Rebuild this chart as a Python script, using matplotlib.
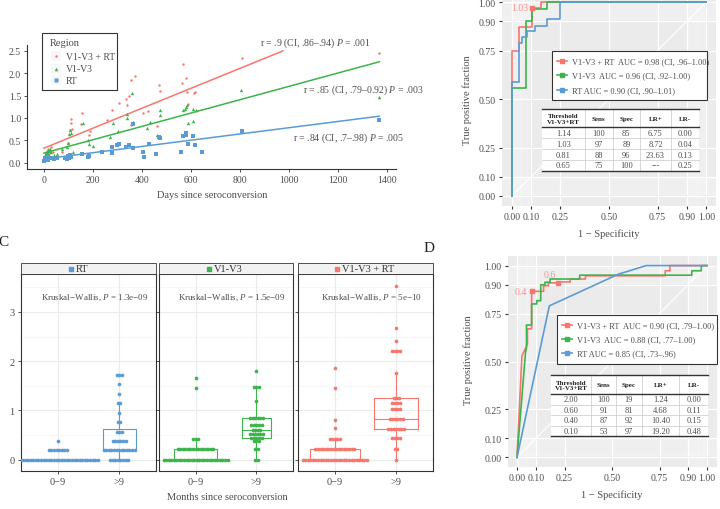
import numpy as np
import matplotlib
matplotlib.use('Agg')
import matplotlib.pyplot as plt
from matplotlib.lines import Line2D
from matplotlib.patches import Rectangle

plt.rcParams['font.family'] = ['Liberation Serif', 'DejaVu Serif']
plt.rcParams['mathtext.fontset'] = 'custom'
plt.rcParams['mathtext.rm'] = 'Liberation Serif'
plt.rcParams['mathtext.it'] = 'Liberation Serif:italic'

RED, GREEN, BLUE = '#F8766D', '#3CB44B', '#5B9BD5'
TXT = '#4D4D4D'

# ---- panel A data: days since seroconversion vs diversity
red_days = [4, 8, 11, 15, 20, 27, 38, 52, 72, 93, 100, 106, 110, 110, 116, 151, 156, 185, 188, 256,
            279, 307, 335, 339, 346, 355, 371, 354, 405, 426, 460, 471, 473, 562, 566, 578, 582, 588,
            612, 616, 807, 1369]
red_vals = [0.16, 0.22, 0.27, 0.30, 0.20, 0.35, 0.24, 0.31, 0.24, 0.16, 0.45, 0.74, 0.88, 0.98, 0.76,
            0.87, 1.11, 0.62, 0.72, 0.96, 1.18, 1.33, 1.42, 1.30, 1.50, 1.84, 1.93, 0.84, 1.11, 1.15,
            0.83, 1.74, 1.61, 1.78, 2.20, 1.89, 1.57, 1.31, 1.56, 1.58, 2.33, 2.44]
green_days = [3, 6, 9, 12, 15, 18, 22, 26, 30, 40, 55, 75, 95, 100, 104, 106, 110, 120, 158, 181, 185,
              200, 269, 280, 303, 337, 340, 358, 365, 419, 433, 460, 467, 473, 475, 566, 576, 580, 582,
              589, 609, 610, 619, 804, 1369]
green_vals = [0.10, 0.18, 0.22, 0.25, 0.28, 0.20, 0.27, 0.30, 0.24, 0.18, 0.21, 0.30, 0.35, 0.44, 0.64,
              0.73, 0.66, 0.25, 0.88, 0.50, 0.43, 0.38, 0.58, 0.88, 0.70, 0.99, 1.08, 1.56, 0.90, 0.77,
              0.92, 0.62, 0.61, 1.18, 1.06, 1.18, 1.20, 1.24, 1.29, 0.89, 0.94, 1.20, 1.18, 1.62, 1.47]
blue_days = [2, 4, 6, 8, 10, 12, 15, 18, 22, 30, 40, 55, 85, 93, 98, 102, 106, 110, 154, 181, 185, 235,
             276, 278, 299, 307, 335, 346, 362, 364, 403, 408, 429, 457, 471, 473, 558, 566, 578, 580,
             587, 607, 616, 644, 807, 1369]
blue_vals = [0.05, 0.08, 0.10, 0.06, 0.12, 0.09, 0.14, 0.07, 0.11, 0.10, 0.09, 0.12, 0.10, 0.09, 0.15,
             0.12, 0.18, 0.13, 0.20, 0.13, 0.16, 0.24, 0.35, 0.22, 0.40, 0.42, 0.35, 0.39, 0.33, 0.87,
             0.25, 0.13, 0.42, 0.20, 0.57, 0.55, 0.24, 0.61, 0.63, 0.67, 0.42, 0.61, 0.40, 0.25, 0.70,
             0.96]
# linear fits (intercept, slope) and correlation labels
fit_red = (0.33, 0.002216)
fit_green = (0.22, 0.001483)
fit_blue = (0.09, 0.000694)
r_labels = ['r = .9 (CI, .86–.94) $P$ = .001',
            'r = .85 (CI, .79–0.92) $P$ = .003',
            'r = .84 (CI, .7–.98) $P$ = .005']

# ---- panel B / D ROC curves (fpr, tpr)
B_red_fpr = [0, 0, 0.036, 0.036, 0.105, 0.105, 0.15, 0.15, 1.0]
B_red_tpr = [0, 0.75, 0.75, 0.873, 0.873, 0.97, 0.97, 1.0, 1.0]
B_green_fpr = [0, 0, 0.072, 0.072, 0.105, 0.105, 0.18, 0.18, 1.0]
B_green_tpr = [0, 0.555, 0.555, 0.90, 0.90, 0.965, 0.965, 1.0, 1.0]
B_blue_fpr = [0, 0, 0.036, 0.036, 0.055, 0.055, 0.076, 0.076, 0.118, 0.118, 0.18, 0.18, 0.25, 0.25, 1.0]
B_blue_tpr = [0, 0.59, 0.59, 0.79, 0.79, 0.82, 0.82, 0.85, 0.85, 0.875, 0.875, 0.91, 0.91, 1.0, 1.0]
B_cut = [(0.105, 0.97, '1.03')]
B_legend = ['V1-V3 + RT  AUC = 0.98 (CI, .96–1.00)',
            'V1-V3  AUC = 0.96 (CI, .92–1.00)',
            'RT AUC = 0.90 (CI, .90–1.01)']
B_rows = [['1.14', '100', '85', '6.75', '0.00'],
          ['1.03', '97', '89', '8.72', '0.04'],
          ['0.81', '88', '96', '23.63', '0.13'],
          ['0.65', '75', '100', '---', '0.25']]

D_red_fpr = [0, 0.026, 0.055, 0.055, 0.077, 0.077, 0.14, 0.14, 0.165, 0.165, 0.216, 0.216, 0.28, 0.28,
             0.36, 0.36, 0.78, 0.78, 0.805, 0.805, 1.0]
D_red_tpr = [0, 0.53, 0.59, 0.67, 0.67, 0.866, 0.866, 0.895, 0.895, 0.91, 0.91, 0.915, 0.915, 0.93,
             0.93, 0.947, 0.947, 0.973, 0.973, 1.0, 1.0]
D_green_fpr = [0, 0.045, 0.05, 0.05, 0.077, 0.077, 0.104, 0.104, 0.125, 0.125, 0.147, 0.147, 0.174,
               0.174, 0.33, 0.33, 0.92, 0.92, 0.97, 0.97, 1.0]
D_green_tpr = [0, 0.55, 0.57, 0.69, 0.69, 0.80, 0.80, 0.817, 0.817, 0.90, 0.90, 0.913, 0.913, 0.93,
               0.93, 0.95, 0.95, 0.973, 0.973, 1.0, 1.0]
D_blue_fpr = [0, 0.17, 0.533, 0.68, 1.0]
D_blue_tpr = [0, 0.79, 0.955, 1.0, 1.0]
D_cut = [(0.077, 0.866, '0.4'), (0.216, 0.91, '0.6')]
D_legend = ['V1-V3 + RT  AUC = 0.90 (CI, .79–1.00)',
            'V1-V3  AUC = 0.88 (CI, .77–1.00)',
            'RT AUC = 0.85 (CI, .73–.96)']
D_rows = [['2.00', '100', '19', '1.24', '0.00'],
          ['0.60', '91', '81', '4.68', '0.11'],
          ['0.40', '87', '92', '10.40', '0.15'],
          ['0.10', '53', '97', '19.20', '0.48']]
table_header = ['Threshold\nV1-V3+RT', 'Sens', 'Spec', 'LR+', 'LR-']

# ---- panel C dotplot data (binned value levels, counts)
groups = ['0−9', '>9']
C_RT = [([0, 0.19, 0.38], [32, 8, 1]),
        ([0, 0.19, 0.38, 0.57, 0.76, 0.95, 1.15, 1.34, 1.53, 1.72], [8, 13, 6, 3, 2, 1, 2, 1, 1, 3])]
C_V13 = [([0, 0.22, 0.41, 1.45, 1.66], [26, 15, 3, 1, 1]),
         ([0, 0.22, 0.37, 0.43, 0.52, 0.60, 0.71, 0.85, 1.20, 1.48, 1.80], [2, 2, 3, 5, 6, 4, 5, 6, 1, 3, 1])]
C_V13RT = [([0, 0.22, 0.41, 0.64, 0.80, 1.45, 1.86], [26, 16, 5, 1, 1, 1, 1]),
           ([0, 0.21, 0.45, 0.62, 0.83, 1.03, 1.15, 1.25, 1.75, 2.21, 2.41, 2.67, 3.52],
            [1, 2, 4, 7, 6, 4, 4, 3, 1, 4, 1, 1, 1])]
C_pvals = ['1.3e−09', '1.5e−09', '5e−10']

W, H = 720, 510
fig = plt.figure(figsize=(7.2, 5.1), dpi=100)


def fx(x):
    return x / W


def fy(y):
    return 1 - y / H


def ax_px(x0, y0, x1, y1):
    return fig.add_axes([x0 / W, 1 - y1 / H, (x1 - x0) / W, (y1 - y0) / H])


def ftext(x, y, s, **kw):
    kw.setdefault('color', TXT)
    kw.setdefault('fontsize', 7)
    return fig.text(fx(x), fy(y), s, **kw)


def fline(xs, ys, **kw):
    fig.add_artist(Line2D([fx(v) for v in xs], [fy(v) for v in ys], transform=fig.transFigure, **kw))


# =================== A ===================
axA = ax_px(27.3, 45.9, 396, 169.6)
axA.scatter(red_days, red_vals, s=3, color=RED, marker='o', linewidths=0, zorder=3)
axA.scatter(green_days, green_vals, s=6, color=GREEN, marker='^', linewidths=0, zorder=3)
axA.scatter(blue_days, blue_vals, s=5, color=BLUE, marker='s', linewidths=0, zorder=3)
for (b, m), col, xmax in [(fit_red, RED, 1369), (fit_green, GREEN, 1369), (fit_blue, BLUE, 1369)]:
    xs = np.linspace(0, xmax, 300)
    ys = b + m * xs
    keep = ys <= 2.5
    axA.plot(xs[keep], ys[keep], color=col, lw=1.1, zorder=2)
axA.set_xlim(-68, 1437)
axA.set_ylim(-0.125, 2.625)
axA.set_xticks(range(0, 1401, 200))
axA.set_yticks(np.arange(0, 2.51, 0.5))
axA.set_yticklabels([f'{v:.1f}' for v in np.arange(0, 2.51, 0.5)])
for s in ['top', 'right']:
    axA.spines[s].set_visible(False)
for s in ['left', 'bottom']:
    axA.spines[s].set_color('#333333')
    axA.spines[s].set_linewidth(0.8)
axA.tick_params(labelsize=7, colors='#333333', labelcolor=TXT, length=2.5, width=0.6, pad=2)
axA.text(882, 2.69, r_labels[0], fontsize=7, color=TXT, va='center')
axA.text(1057, 1.64, r_labels[1], fontsize=7, color=TXT, va='center')
axA.text(1016, 0.58, r_labels[2], fontsize=7, color=TXT, va='center')
ftext(212, 196, 'Days since seroconversion', ha='center', va='center', fontsize=7.5)
# y title sits mostly outside the left edge, as in the cropped original
ftext(-3.5, 106, 'Mean diversity (%)', rotation=90, ha='center', va='center', fontsize=7.5)
# legend A
fig.add_artist(Rectangle((fx(42), fy(91)), fx(117) - fx(42), fy(34) - fy(91), transform=fig.transFigure,
                         facecolor='white', edgecolor='#333333', lw=0.8))
ftext(50, 43, 'Region', va='center', fontsize=7.5)
for yy, col, mk, ms, lab in [(57, RED, 'o', 1.8, 'V1-V3 + RT'), (69.5, GREEN, '^', 2.6, 'V1-V3'),
                             (81, BLUE, 's', 2.4, 'RT')]:
    fig.add_artist(Rectangle((fx(51), fy(yy + 5)), fx(61) - fx(51), fy(yy - 5) - fy(yy + 5),
                             transform=fig.transFigure, facecolor='#F7F7F7', edgecolor='none'))
    fline([56], [yy], marker=mk, ms=ms, color=col, mec='none', ls='none')
    ftext(66, yy, lab, va='center', fontsize=7)


# =================== ROC helpers ===================
def roc_axes(ax, curves, cuts):
    ax.set_facecolor('#EBEBEB')
    majors = [0, 0.1, 0.25, 0.5, 0.75, 0.9, 1.0]
    minors = list(np.arange(0.01, 0.1, 0.01)) + list(np.arange(0.91, 1.0, 0.01))
    for v in minors:
        ax.axvline(v, color='white', lw=0.35, zorder=0)
        ax.axhline(v, color='white', lw=0.35, zorder=0)
    for v in majors:
        ax.axvline(v, color='white', lw=0.9, zorder=0)
        ax.axhline(v, color='white', lw=0.9, zorder=0)
    ax.plot([0, 1], [0, 1], color='white', lw=0.9, zorder=0)
    for fpr, tpr, col in curves:
        ax.plot(fpr, tpr, color=col, lw=1.2, zorder=2)
    for x, y, lab in cuts:
        ax.plot([x], [y], marker='s', ms=3, color=RED, zorder=3)
    ax.set_xlim(-0.05, 1.05)
    ax.set_ylim(-0.05, 1.05)
    ax.set_xticks(majors)
    ax.set_yticks(majors)
    ax.set_xticklabels([f'{v:.2f}' for v in majors])
    ax.set_yticklabels([f'{v:.2f}' for v in majors])
    for s in ax.spines.values():
        s.set_visible(False)
    ax.tick_params(labelsize=7, colors='#333333', labelcolor=TXT, length=2.5, width=0.8, pad=2)


def roc_legend(x0, y0, x1, y1, ys, labels):
    fig.add_artist(Rectangle((fx(x0), fy(y1)), fx(x1) - fx(x0), fy(y0) - fy(y1), transform=fig.transFigure,
                             facecolor='white', edgecolor='#333333', lw=0.8, zorder=5))
    for yy, col, lab in zip(ys, [RED, GREEN, BLUE], labels):
        fline([x0 + 5, x0 + 15], [yy, yy], color=col, lw=1.2, zorder=6)
        fline([x0 + 10], [yy], marker='s', ms=2.8, color=col, ls='none', zorder=6)
        t = ftext(x0 + 20, yy, lab, va='center', fontsize=6)
        t.set_zorder(6)


def roc_table(cols, rows_y, header, rows):
    fig.add_artist(Rectangle((fx(cols[0]), fy(rows_y[-1])), fx(cols[-1]) - fx(cols[0]),
                             fy(rows_y[0]) - fy(rows_y[-1]), transform=fig.transFigure,
                             facecolor='white', edgecolor='none', zorder=5))
    for x in cols[1:-1]:
        fline([x, x], [rows_y[0], rows_y[-1]], color='#C8C8C8', lw=0.5, zorder=6)
    for y in rows_y[2:-1]:
        fline([cols[0], cols[-1]], [y, y], color='#C8C8C8', lw=0.5, zorder=6)
    for y in [rows_y[0], rows_y[1], rows_y[-1]]:
        fline([cols[0], cols[-1]], [y, y], color='#333333', lw=1.0, zorder=6)
    for j, h in enumerate(header):
        t = ftext((cols[j] + cols[j + 1]) / 2, (rows_y[0] + rows_y[1]) / 2 + 0.5, h, ha='center',
                  va='center', fontsize=5, fontweight='bold', color='#222222', linespacing=1.05)
        t.set_zorder(7)
    for i, row in enumerate(rows):
        for j, v in enumerate(row):
            t = ftext((cols[j] + cols[j + 1]) / 2, (rows_y[i + 1] + rows_y[i + 2]) / 2, v, ha='center',
                      va='center', fontsize=6)
            t.set_zorder(7)


# =================== B ===================
axB = ax_px(502, -6.7, 716, 206.7)
roc_axes(axB, [(B_red_fpr, B_red_tpr, RED), (B_green_fpr, B_green_tpr, GREEN),
               (B_blue_fpr, B_blue_tpr, BLUE)], B_cut)
axB.text(0.085, 0.97, B_cut[0][2], color=RED, alpha=0.75, fontsize=7, ha='right', va='center')
ftext(609, 234, '1 − Specificity', ha='center', va='center', fontsize=7.5)
ftext(467, 100, 'True positive fraction', rotation=90, ha='center', va='center', fontsize=7.5)
roc_legend(551.7, 51.7, 706.7, 101, [62.3, 76, 90.7], B_legend)
roc_table([541.7, 585, 612.7, 640, 671, 699], [110, 128, 139.3, 150, 161, 171.7], table_header, B_rows)

# =================== D ===================
axD = ax_px(507.5, 257, 716.5, 468)
roc_axes(axD, [(D_red_fpr, D_red_tpr, RED), (D_green_fpr, D_green_tpr, GREEN),
               (D_blue_fpr, D_blue_tpr, BLUE)], D_cut)
axD.text(0.055, 0.866, D_cut[0][2], color=RED, alpha=0.75, fontsize=7, ha='right', va='center')
axD.text(0.17, 0.955, D_cut[1][2], color=RED, alpha=0.75, fontsize=7, ha='center', va='center')
ftext(612, 495, '1 − Specificity', ha='center', va='center', fontsize=7.5)
ftext(468, 360, 'True positive fraction', rotation=90, ha='center', va='center', fontsize=7.5)
roc_legend(557.3, 316, 716.7, 365, [326, 340, 354], D_legend)
roc_table([551, 591, 616, 641.7, 679.3, 708.3], [376, 395, 405.5, 416, 426.5, 437.3], table_header, D_rows)

# =================== C ===================
facets = [('RT', C_RT, BLUE, 21, 156, [0.6, 0.54], 71),
          ('V1-V3', C_V13, GREEN, 159, 293, [0.70, 0.48], 209),
          ('V1-V3 + RT', C_V13RT, RED, 298, 433, [0.81, 0.71], 337)]
dot_d = 0.042
for k, (name, data, col, x0, x1, widths, sqx) in enumerate(facets):
    ax = ax_px(x0, 275, x1, 472)
    ax.set_xlim(0.4, 2.6)
    ax.set_ylim(-0.23, 3.77)
    for v in [0.5, 1.5, 2.5, 3.5]:
        ax.axhline(v, color='#F2F2F2', lw=0.4, zorder=0)
    for v in [0, 1, 2, 3]:
        ax.axhline(v, color='#EBEBEB', lw=0.8, zorder=0)
    for v in [1, 2]:
        ax.axvline(v, color='#EBEBEB', lw=0.8, zorder=0)
    for g, (levels, counts) in enumerate(data):
        pos = g + 1
        vals = np.repeat(levels, counts)
        ax.boxplot(vals, positions=[pos], widths=widths[g], showfliers=False, showcaps=False,
                   whis=1.5, patch_artist=False, manage_ticks=False,
                   boxprops=dict(color=col, lw=0.8), whiskerprops=dict(color=col, lw=0.8),
                   medianprops=dict(color=col, lw=0.8))
        for lv, n in zip(levels, counts):
            offs = (np.arange(n) - (n - 1) / 2) * dot_d
            ax.scatter(pos + offs, np.full(n, lv), s=7, color=col, linewidths=0, zorder=3)
    ax.text(1.6, 3.3, 'Kruskal−Wallis, $P$ = ' + C_pvals[k], ha='center', va='center', fontsize=6.5,
            color=TXT)
    ax.set_xticks([1, 2])
    ax.set_xticklabels(groups)
    ax.set_yticks([0, 1, 2, 3])
    if k > 0:
        ax.set_yticklabels([])
        ax.tick_params(axis='y', length=0)
    for s in ax.spines.values():
        s.set_color('#333333')
        s.set_linewidth(0.8)
    ax.tick_params(labelsize=7.5, colors='#333333', labelcolor=TXT, length=2.5, width=0.6, pad=2)
    fig.add_artist(Rectangle((fx(x0), fy(275)), fx(x1) - fx(x0), fy(264) - fy(275), transform=fig.transFigure,
                             facecolor='#F2F2F2', edgecolor='#333333', lw=0.6))
    fline([sqx], [269.5], marker='s', ms=3.5, color=col, ls='none')
    ftext(sqx + 5, 269.8, name, va='center', fontsize=7.5, color='#333333')

ftext(227, 498, 'Months since seroconversion', ha='center', va='center', fontsize=7.5)
ftext(-3.5, 368, 'Mean diversity (%)', rotation=90, ha='center', va='center', fontsize=7.5)

ftext(-2, 243, 'C', fontsize=11, color='#222222', va='center')
ftext(424, 249, 'D', fontsize=11, color='#222222', va='center')

fig.savefig('out.png', dpi=100)
